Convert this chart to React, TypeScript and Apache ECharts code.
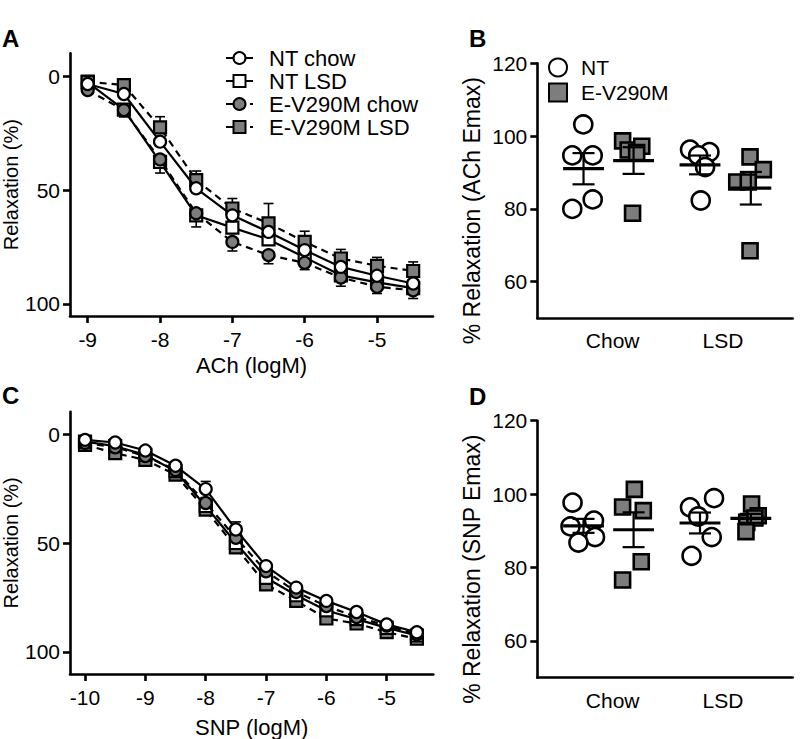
import React, { useEffect, useRef } from 'react';
import * as echarts from 'echarts';

// ---------- Panel A: ACh concentration-response ----------
const achX = [-9, -8.5, -8, -7.5, -7, -6.5, -6, -5.5, -5, -4.5];
const achNTchow = [3.2, 7.6, 28.6, 49.1, 61.0, 68.3, 76.3, 83.7, 87.6, 91.0];
const achNTlsd = [2.5, 14.5, 37.5, 61.0, 66.4, 71.6, 79.5, 87.4, 90.5, 93.0];
const achEVchow = [5.9, 14.7, 36.4, 60.1, 72.7, 78.5, 81.9, 88.4, 92.4, 94.0];
const achEVlsd = [2.2, 3.7, 22.3, 45.5, 58.0, 64.5, 72.7, 80.0, 83.2, 85.5];
const achNTchowErr = [1.0, 1.5, 2.0, 2.0, 2.0, 2.0, 2.0, 1.5, 1.5, 1.5];
const achEVchowErr = [1.5, 3.0, 6.0, 6.0, 4.0, 3.8, 3.0, 3.8, 3.0, 3.6];
const achEVlsdErr = [1.5, 1.5, 4.7, 4.0, 4.4, 8.7, 4.7, 4.0, 3.7, 4.0];
const achXTicks = [-9, -8, -7, -6, -5];

// ---------- Panel C: SNP concentration-response ----------
const snpX = [-10, -9.5, -9, -8.5, -8, -7.5, -7, -6.5, -6, -5.5, -5, -4.5];
const snpNTchow = [2.6, 3.8, 7.5, 14.5, 25.2, 43.8, 60.6, 70.5, 76.6, 81.7, 87.4, 91.0];
const snpNTlsd = [3.4, 5.5, 9.5, 17.0, 33.0, 50.0, 66.0, 74.0, 81.0, 85.0, 89.0, 92.5];
const snpEVchow = [4.0, 6.0, 10.0, 16.5, 31.6, 47.6, 63.0, 72.5, 79.0, 84.0, 88.0, 92.0];
const snpEVlsd = [4.9, 8.7, 11.8, 18.6, 34.7, 52.0, 69.0, 76.6, 84.7, 87.0, 91.0, 94.0];
const snpNTchowErr = [1.0, 1.0, 1.0, 1.5, 3.5, 3.5, 2.0, 1.5, 1.5, 1.5, 1.5, 1.5];
const snpXTicks = [-10, -9, -8, -7, -6, -5];

const curveYTicks = [0, 50, 100];

// ---------- Panels B & D: Emax scatter ----------
const emaxGroups = ['Chow', 'LSD'];
const emaxYTicks = [60, 80, 100, 120];
// group centres on a 0-100 horizontal scale: NT chow, E-V290M chow, NT LSD, E-V290M LSD
const groupCentres = [18.1, 37.7, 63.7, 83.6];
const groupLabelPos = [29.5, 72.7];

const bNTchow = [103.2, 94.7, 94.7, 80.0, 82.6];
const bNTchowJit = [18.0, 13.7, 21.7, 13.7, 21.7];
const bEVchow = [98.7, 96.2, 97.2, 95.5, 78.8];
const bEVchowJit = [33.4, 35.6, 40.9, 38.9, 37.3];
const bNTlsd = [96.3, 95.6, 94.7, 91.5, 82.3];
const bNTlsdJit = [59.8, 67.4, 63.0, 65.7, 64.0];
const bEVlsd = [94.3, 90.8, 87.4, 87.4, 68.5];
const bEVlsdJit = [83.3, 88.5, 78.1, 82.6, 83.3];

const dNTchow = [97.7, 91.2, 92.8, 88.3, 86.8];
const dNTchowJit = [13.8, 13.0, 22.2, 22.6, 16.1];
const dEVchow = [101.3, 96.5, 95.5, 81.6, 76.6];
const dEVchowJit = [38.0, 33.4, 41.5, 40.7, 33.4];
const dNTlsd = [96.4, 98.9, 93.9, 88.3, 83.2];
const dNTlsdJit = [59.8, 69.2, 63.0, 68.3, 60.4];
const dEVlsd = [97.3, 94.1, 92.3, 93.5, 89.8];
const dEVlsdJit = [83.9, 86.5, 82.0, 85.2, 81.7];

const FONT = '"Liberation Sans", Arial, sans-serif';
const GRAY = '#7d7d7d';

const mean = (a: number[]) => a.reduce((s, v) => s + v, 0) / a.length;
const sem = (a: number[]) => {
  const m = mean(a);
  const v = a.reduce((s, x) => s + (x - m) * (x - m), 0) / (a.length - 1);
  return Math.sqrt(v) / Math.sqrt(a.length);
};
const pairs = (xs: number[], ys: number[]) => xs.map((x, i) => [x, ys[i]]);

function errRender(params: any, api: any) {
  const x = api.value(0);
  const y = api.value(1);
  const e = api.value(2);
  const d = api.value(3);
  const p = api.coord([x, y]);
  const dirs = d === 0 ? [-1, 1] : [d];
  const children: any[] = [];
  for (const s of dirs) {
    const q = api.coord([x, y + s * e]);
    children.push({ type: 'line', shape: { x1: p[0], y1: p[1], x2: q[0], y2: q[1] }, style: { stroke: '#000', lineWidth: 1.6 } });
    children.push({ type: 'line', shape: { x1: q[0] - 5, y1: q[1], x2: q[0] + 5, y2: q[1] }, style: { stroke: '#000', lineWidth: 1.6 } });
  }
  return { type: 'group', children };
}

function meanRender(params: any, api: any) {
  const c = api.value(0);
  const m = api.value(1);
  const s = api.value(2);
  const pl = api.coord([c - 8, m]);
  const pr = api.coord([c + 8, m]);
  const pt = api.coord([c, m + s]);
  const pb = api.coord([c, m - s]);
  const cap = 11;
  return {
    type: 'group',
    children: [
      { type: 'line', shape: { x1: pl[0], y1: pl[1], x2: pr[0], y2: pr[1] }, style: { stroke: '#000', lineWidth: 3.2 } },
      { type: 'line', shape: { x1: pt[0], y1: pt[1], x2: pb[0], y2: pb[1] }, style: { stroke: '#000', lineWidth: 2.2 } },
      { type: 'line', shape: { x1: pt[0] - cap, y1: pt[1], x2: pt[0] + cap, y2: pt[1] }, style: { stroke: '#000', lineWidth: 2.2 } },
      { type: 'line', shape: { x1: pb[0] - cap, y1: pb[1], x2: pb[0] + cap, y2: pb[1] }, style: { stroke: '#000', lineWidth: 2.2 } },
    ],
  };
}

const axisLine = { show: true, onZero: false, lineStyle: { color: '#000', width: 2.6 } };
const labelStyle = { color: '#000', fontSize: 21, fontFamily: FONT };
const nameStyle = { color: '#000', fontSize: 22, fontFamily: FONT };

function curveSeries(idx: number, name: string, xs: number[], ys: number[], symbol: string, fill: string, dashed: boolean, z: number) {
  return {
    type: 'line',
    name,
    xAxisIndex: idx,
    yAxisIndex: idx,
    data: pairs(xs, ys),
    symbol,
    symbolSize: 12,
    showSymbol: true,
    lineStyle: { color: '#000', width: 2.2, type: dashed ? [7, 5] : 'solid' },
    itemStyle: { color: fill, borderColor: '#000', borderWidth: 2.2, opacity: 1 },
    z,
  };
}

function errSeries(idx: number, xs: number[], ys: number[], errs: number[], dir: number) {
  return {
    type: 'custom',
    xAxisIndex: idx,
    yAxisIndex: idx,
    renderItem: errRender,
    data: xs.map((x, i) => [x, ys[i], errs[i], dir]),
    encode: { x: 0, y: 1 },
    silent: true,
    z: 1,
  };
}

function scatterSeries(idx: number, name: string, groups: [number[], number[]][], symbol: string, fill: string, size: number) {
  const data: number[][] = [];
  groups.forEach(([ys, xs]) => ys.forEach((y, i) => data.push([xs[i], y])));
  return {
    type: 'scatter',
    name,
    xAxisIndex: idx,
    yAxisIndex: idx,
    data,
    symbol,
    symbolSize: size,
    itemStyle: { color: fill, borderColor: '#000', borderWidth: 2.6, opacity: 1 },
    z: 2,
  };
}

function meanSeries(idx: number, sets: number[][]) {
  return {
    type: 'custom',
    xAxisIndex: idx,
    yAxisIndex: idx,
    renderItem: meanRender,
    data: sets.map((s, i) => [groupCentres[i], mean(s), sem(s)]),
    encode: { x: 0, y: 1 },
    silent: true,
    z: 5,
  };
}

function curveXAxis(idx: number, min: number, max: number, ticks: number[], name: string, gap: number) {
  return {
    type: 'value',
    gridIndex: idx,
    min,
    max,
    name,
    nameLocation: 'middle',
    nameGap: gap,
    nameTextStyle: nameStyle,
    axisLine,
    axisTick: { show: true, customValues: ticks, length: 7, lineStyle: { color: '#000', width: 2.6 } },
    axisLabel: { show: true, customValues: ticks, margin: 13, ...labelStyle },
    splitLine: { show: false },
  };
}

function curveYAxis(idx: number, min: number, max: number) {
  return {
    type: 'value',
    gridIndex: idx,
    inverse: true,
    min,
    max,
    name: 'Relaxation (%)',
    nameLocation: 'middle',
    nameGap: 45,
    nameTextStyle: { ...nameStyle, fontSize: 20 },
    axisLine,
    axisTick: { show: true, customValues: curveYTicks, length: 7, lineStyle: { color: '#000', width: 2.6 } },
    axisLabel: { show: true, customValues: curveYTicks, margin: 10, ...labelStyle },
    splitLine: { show: false },
  };
}

function emaxXAxis(idx: number) {
  return {
    type: 'value',
    gridIndex: idx,
    min: 0,
    max: 100,
    axisLine,
    axisTick: { show: false },
    axisLabel: {
      show: true,
      customValues: groupLabelPos,
      margin: 12,
      formatter: (v: number) => (v < 50 ? emaxGroups[0] : emaxGroups[1]),
      ...labelStyle,
    },
    splitLine: { show: false },
  };
}

function emaxYAxis(idx: number, name: string) {
  return {
    type: 'value',
    gridIndex: idx,
    min: 50,
    max: 120,
    name,
    nameLocation: 'middle',
    nameGap: 54,
    nameTextStyle: { ...nameStyle, fontSize: 23, padding: [0, 40, 0, 0] },
    axisLine,
    axisTick: { show: true, customValues: emaxYTicks, length: 7, lineStyle: { color: '#000', width: 2.6 } },
    axisLabel: { show: true, customValues: emaxYTicks, margin: 10, ...labelStyle },
    splitLine: { show: false },
  };
}

export default function App() {
  const ref = useRef<HTMLDivElement>(null);
  useEffect(() => {
    document.body.style.margin = '0';
    if (!ref.current) return;
    const chart = echarts.init(ref.current, undefined, { renderer: 'svg' });
    const letter = (text: string, left: number, top: number) => ({
      text,
      left,
      top,
      padding: 0,
      textStyle: { fontSize: 24, fontWeight: 'bold', color: '#000', fontFamily: FONT },
    });
    const option: any = {
      animation: false,
      backgroundColor: '#fff',
      title: [letter('A', 2, 26), letter('B', 469, 26), letter('C', 2, 383), letter('D', 469, 384)],
      legend: [
        {
          data: ['NT chow', 'NT LSD', 'E-V290M chow', 'E-V290M LSD'],
          orient: 'vertical',
          left: 225,
          top: 47,
          padding: 0,
          itemWidth: 27,
          itemHeight: 15,
          itemGap: 1,
          selectedMode: false,
          textStyle: { fontSize: 22, fontFamily: FONT, color: '#000', padding: [0, 0, 0, 11] },
        },
        {
          data: ['NT', 'E-V290M'],
          orient: 'vertical',
          left: 548,
          top: 57,
          padding: 0,
          itemWidth: 18,
          itemHeight: 18,
          itemGap: 4,
          selectedMode: false,
          textStyle: { fontSize: 21, fontFamily: FONT, color: '#000', padding: [0, 0, 0, 9] },
        },
      ],
      grid: [
        { left: 70, top: 53.3, width: 363, height: 262.7 },
        { left: 537.3, top: 63.3, width: 255.4, height: 254.8 },
        { left: 70, top: 411.7, width: 363.3, height: 263.3 },
        { left: 537.3, top: 420.7, width: 255.4, height: 257.0 },
      ],
      xAxis: [
        curveXAxis(0, -9.245, -4.226, achXTicks, 'ACh (logM)', 38),
        emaxXAxis(1),
        curveXAxis(2, -10.249, -4.228, snpXTicks, 'SNP (logM)', 42),
        emaxXAxis(3),
      ],
      yAxis: [
        curveYAxis(0, -10.3, 105.3),
        emaxYAxis(1, '% Relaxation (ACh Emax)'),
        curveYAxis(2, -10.35, 110.2),
        emaxYAxis(3, '% Relaxation (SNP Emax)'),
      ],
      series: [
        // Panel A
        errSeries(0, achX, achEVlsd, achEVlsdErr, -1),
        errSeries(0, achX, achEVchow, achEVchowErr, 1),
        errSeries(0, achX, achNTchow, achNTchowErr, 0),
        curveSeries(0, 'E-V290M LSD', achX, achEVlsd, 'rect', GRAY, true, 2),
        curveSeries(0, 'NT LSD', achX, achNTlsd, 'rect', '#fff', false, 3),
        curveSeries(0, 'E-V290M chow', achX, achEVchow, 'circle', GRAY, true, 4),
        curveSeries(0, 'NT chow', achX, achNTchow, 'circle', '#fff', false, 5),
        // Panel C
        errSeries(2, snpX, snpNTchow, snpNTchowErr, -1),
        curveSeries(2, 'E-V290M LSD', snpX, snpEVlsd, 'rect', GRAY, true, 2),
        curveSeries(2, 'NT LSD', snpX, snpNTlsd, 'rect', '#fff', false, 3),
        curveSeries(2, 'E-V290M chow', snpX, snpEVchow, 'circle', GRAY, true, 4),
        curveSeries(2, 'NT chow', snpX, snpNTchow, 'circle', '#fff', false, 5),
        // Panel B
        scatterSeries(1, 'NT', [[bNTchow, bNTchowJit], [bNTlsd, bNTlsdJit]], 'circle', '#fff', 18),
        scatterSeries(1, 'E-V290M', [[bEVchow, bEVchowJit], [bEVlsd, bEVlsdJit]], 'rect', GRAY, 15),
        meanSeries(1, [bNTchow, bEVchow, bNTlsd, bEVlsd]),
        // Panel D
        scatterSeries(3, 'NT', [[dNTchow, dNTchowJit], [dNTlsd, dNTlsdJit]], 'circle', '#fff', 18),
        scatterSeries(3, 'E-V290M', [[dEVchow, dEVchowJit], [dEVlsd, dEVlsdJit]], 'rect', GRAY, 15),
        meanSeries(3, [dNTchow, dEVchow, dNTlsd, dEVlsd]),
      ],
    };
    chart.setOption(option);
    return () => chart.dispose();
  }, []);
  return <div ref={ref} style={{ width: 800, height: 739 }} />;
}
